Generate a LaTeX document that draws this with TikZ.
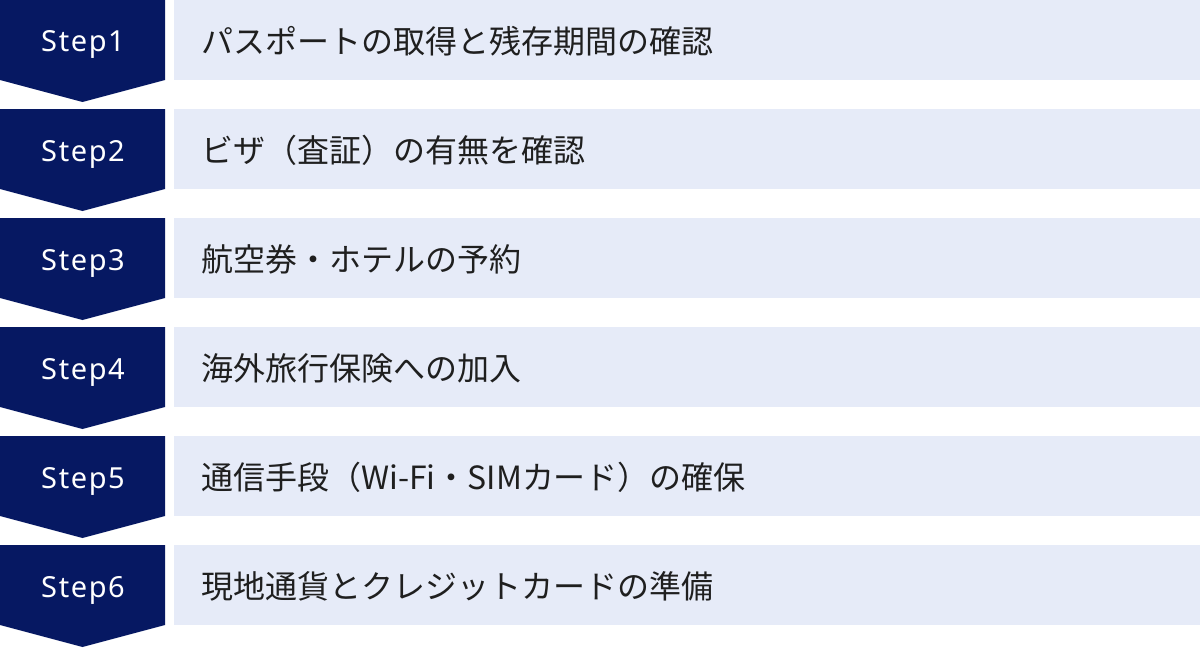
\documentclass[tikz,border=0pt]{standalone}
\usepackage{fontspec}
\setmainfont{Noto Sans}
\newfontfamily\stepfont[LetterSpace=5.5]{Noto Sans}
\newfontfamily\jpfont{Noto Sans CJK JP}
\usetikzlibrary{calc}
\definecolor{navy}{RGB}{6,24,98}
\definecolor{paleblue}{RGB}{230,235,248}
\tikzset{
  chevron/.style={fill=navy, draw=none},
  taskbar/.style={fill=paleblue, draw=none},
  steplabel/.style={anchor=base, inner sep=0pt, text=white, font=\stepfont\fontsize{16.5}{20}\selectfont},
  tasktext/.style={anchor=west, inner sep=0pt, text=black!88, font=\jpfont\fontsize{18.2}{22}\selectfont}
}
\def\steprow(#1)#2#3{%
  \fill[chevron] (0,#1) -- (165,#1) -- (165,#1-80) -- (82.5,#1-102) -- (0,#1-80) -- cycle;
  \fill[taskbar] (174,#1) rectangle (1200,#1-80);
  \node[steplabel] (#2) at (83,#1-52) {#2};
  \node[tasktext] (#2-text) at (201,#1-41) {#3};
}
\begin{document}
\begin{tikzpicture}[x=0.02cm,y=0.02cm]
			%%%%% START %%%%%
			\useasboundingbox (0,0) rectangle (1200,647);
			
			\steprow(647){Step1}{パスポートの取得と残存期間の確認}
			\steprow(538){Step2}{ビザ（査証）の有無を確認}
			\steprow(429){Step3}{航空券・ホテルの予約}
			\steprow(320){Step4}{海外旅行保険への加入}
			\steprow(211){Step5}{通信手段（Wi-Fi・SIMカード）の確保}
			\steprow(102){Step6}{現地通貨とクレジットカードの準備}
			
			%%%%% END %%%%%
\end{tikzpicture}
\end{document}
